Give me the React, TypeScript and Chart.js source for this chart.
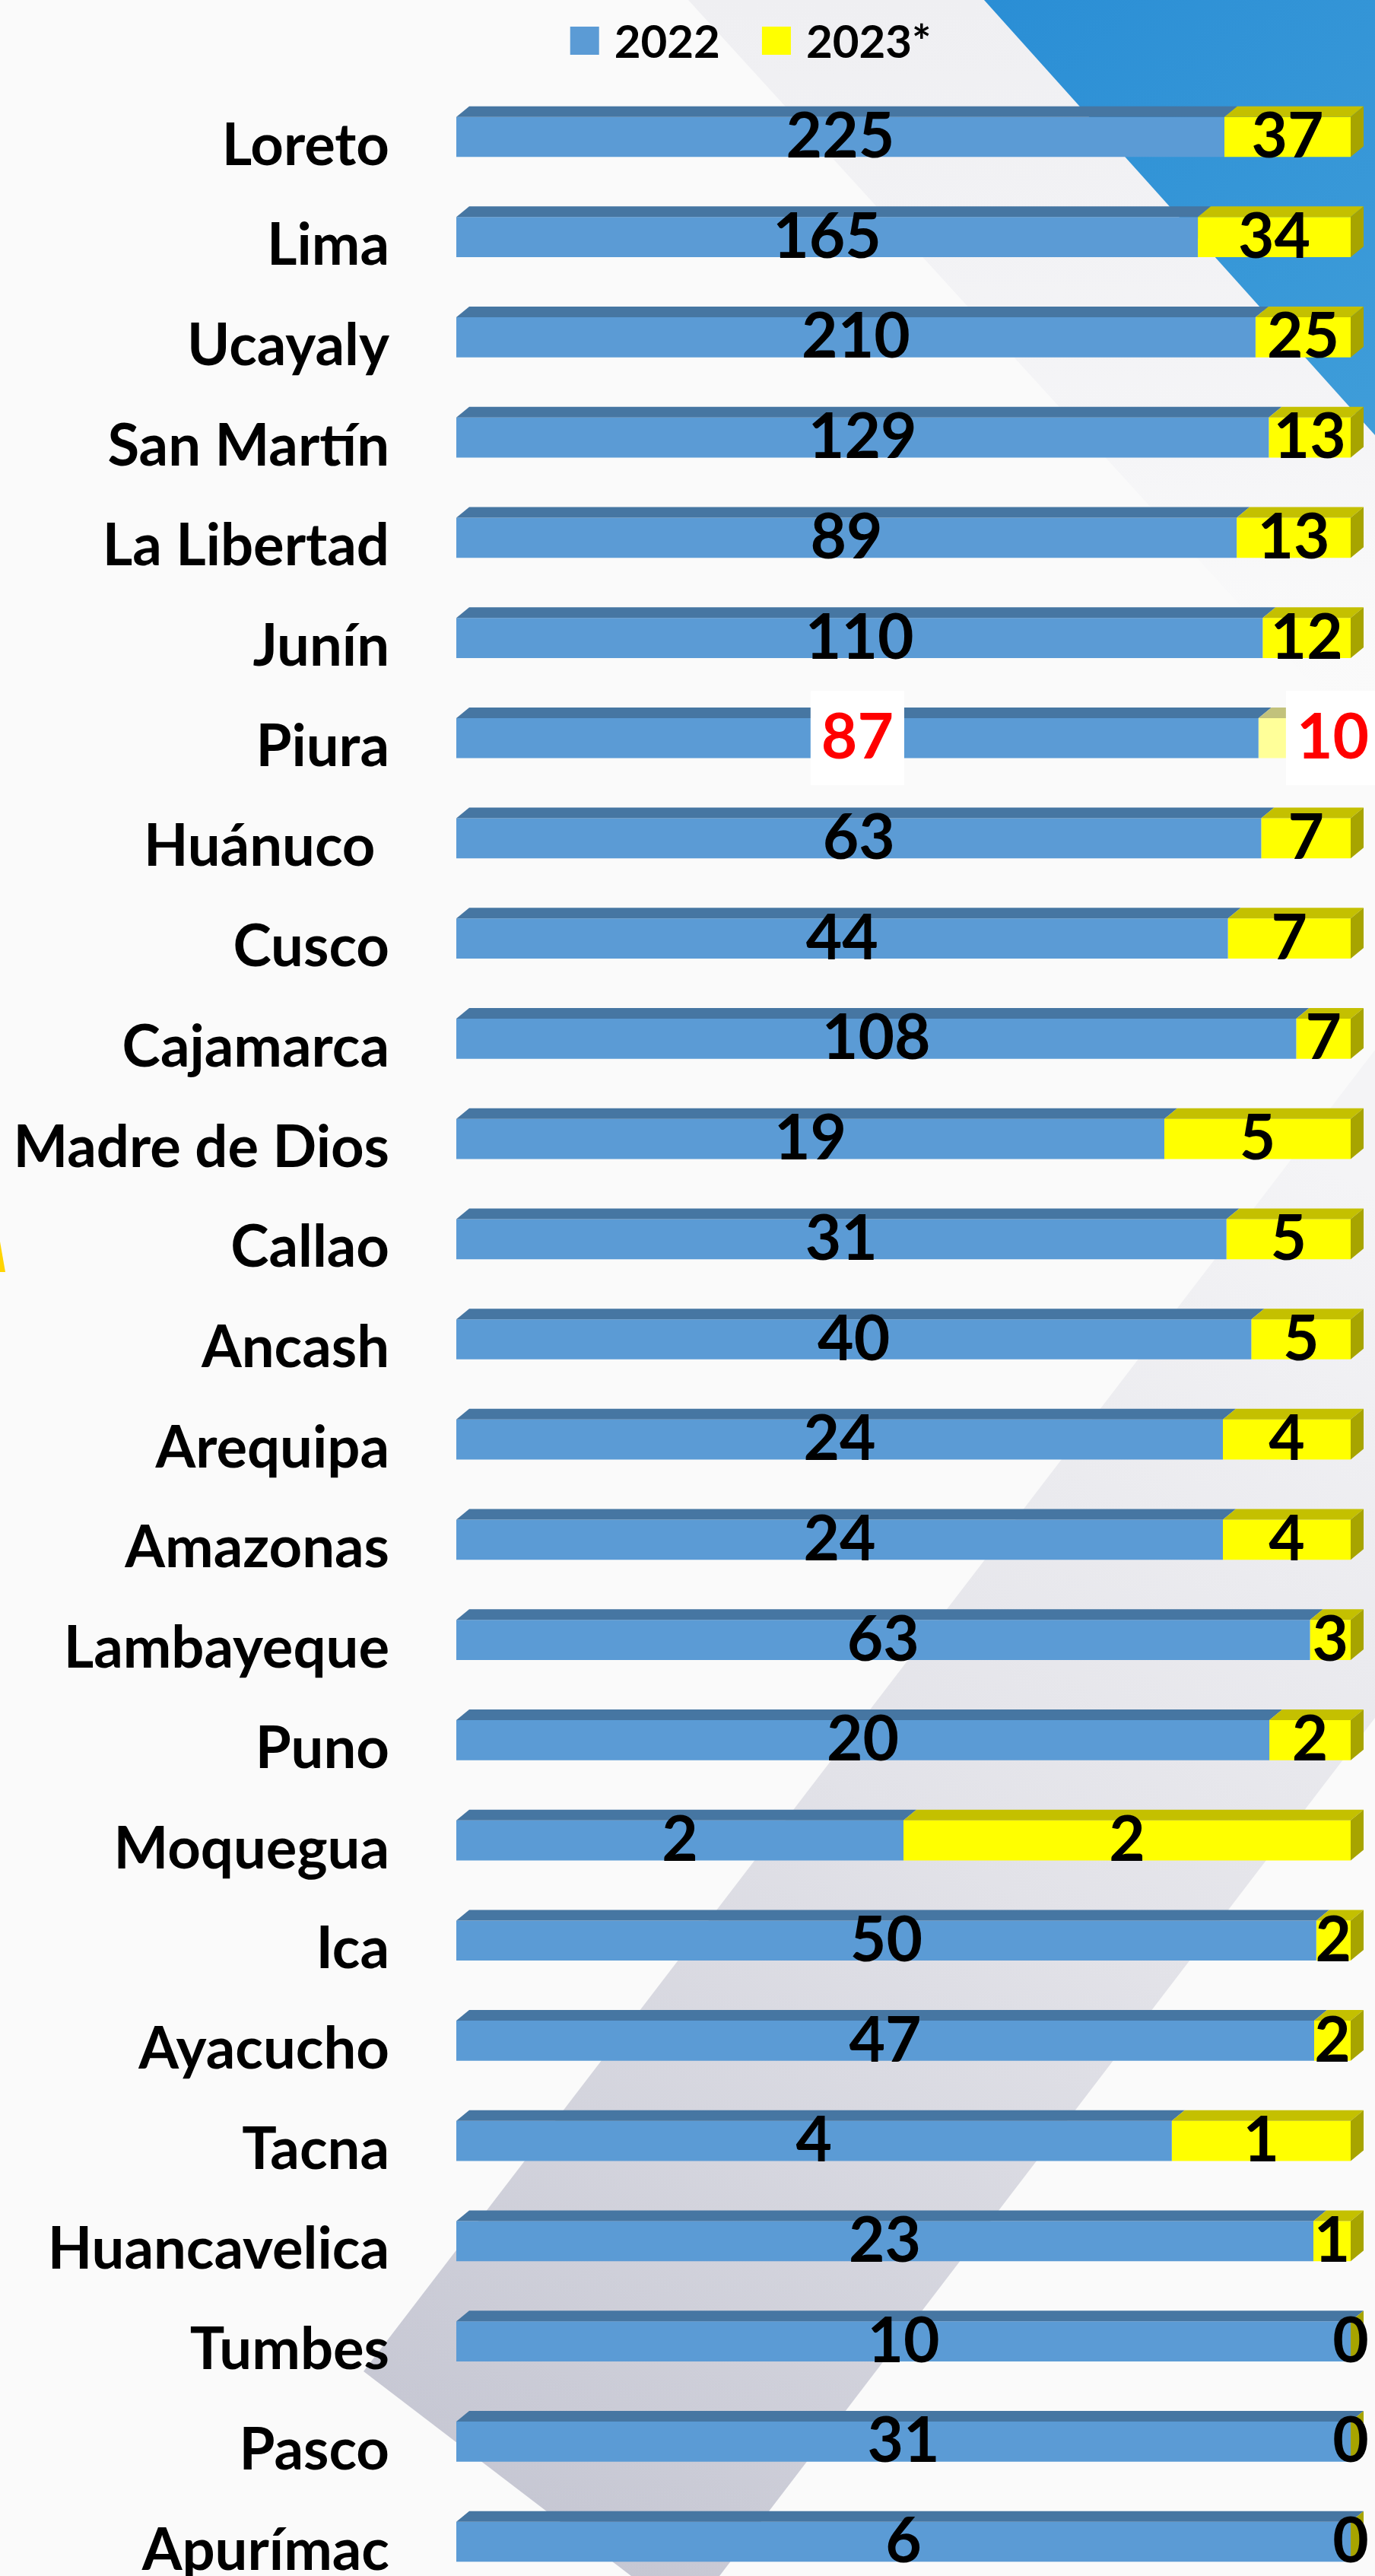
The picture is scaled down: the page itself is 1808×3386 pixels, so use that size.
import React, { useEffect, useRef } from 'react';
import { Chart, registerables } from 'chart.js';

Chart.register(...registerables);

const categories = [
  'Loreto', 'Lima', 'Ucayaly', 'San Martín', 'La Libertad', 'Junín', 'Piura', 'Huánuco ',
  'Cusco', 'Cajamarca', 'Madre de Dios', 'Callao', 'Ancash', 'Arequipa', 'Amazonas',
  'Lambayeque', 'Puno', 'Moquegua', 'Ica', 'Ayacucho', 'Tacna', 'Huancavelica', 'Tumbes',
  'Pasco', 'Apurímac',
];
const values2022 = [225, 165, 210, 129, 89, 110, 87, 63, 44, 108, 19, 31, 40, 24, 24, 63, 20, 2, 50, 47, 4, 23, 10, 31, 6];
const values2023 = [37, 34, 25, 13, 13, 12, 10, 7, 7, 7, 5, 5, 5, 4, 4, 3, 2, 2, 2, 2, 1, 1, 0, 0, 0];
const seriesNames = ['2022', '2023*'];
const highlighted = 'Piura';

const FONT = 'Lato, "Open Sans", sans-serif';
const BLUE = '#5B9BD5';
const BLUE_TOP = '#4676A2';
const YELLOW = '#FFFF00';
const YELLOW_TOP = '#C4C000';
const YELLOW_SIDE = '#A7A400';
const PALE = '#FFFF99';
const PALE_TOP = '#C2C27C';
const PALE_SIDE = '#A8A86C';
const DX = 17;
const DY = 14;

function share(a: number, b: number) {
  const t = a + b;
  return t === 0 ? 0 : (a / t) * 100;
}

const pct2022 = values2022.map((v, i) => share(v, values2023[i]));
const pct2023 = values2023.map((v, i) => share(v, values2022[i]));

function poly(ctx: CanvasRenderingContext2D, pts: number[][], fill: string | CanvasGradient) {
  ctx.beginPath();
  ctx.moveTo(pts[0][0], pts[0][1]);
  for (let i = 1; i < pts.length; i++) ctx.lineTo(pts[i][0], pts[i][1]);
  ctx.closePath();
  ctx.fillStyle = fill;
  ctx.fill();
}

const decoPlugin = {
  id: 'deco',
  beforeDraw(chart: any) {
    const { ctx, width: W, height: H } = chart;
    const sx = W / 1808;
    const sy = H / 3386;
    const P = (x: number, y: number) => [x * sx, y * sy];
    ctx.save();
    ctx.fillStyle = '#FAFAFA';
    ctx.fillRect(0, 0, W, H);

    // light diagonal band at top
    let g = ctx.createLinearGradient(0, 0, 0, 1000 * sy);
    g.addColorStop(0, '#EFEFF2');
    g.addColorStop(0.6, '#F5F5F7');
    g.addColorStop(1, 'rgba(250,250,250,0)');
    poly(ctx, [P(905, 0), P(1808, 0), P(1808, 990)], g);

    // blue corner
    g = ctx.createLinearGradient(1294 * sx, 0, 1808 * sx, 572 * sy);
    g.addColorStop(0, '#2A8ED5');
    g.addColorStop(1, '#3F9DD9');
    poly(ctx, [P(1294, 0), P(1808, 0), P(1808, 572)], g);

    // lower grey band
    g = ctx.createLinearGradient(1700 * sx, 1500 * sy, 600 * sx, 3250 * sy);
    g.addColorStop(0, '#F4F4F6');
    g.addColorStop(0.5, '#E2E2E8');
    g.addColorStop(1, '#C6C7D3');
    poly(ctx, [P(1808, 1380), P(478, 3117), P(830, 3386), P(946, 3386), P(1808, 2258)], g);

    // small yellow tip at left edge
    poly(ctx, [P(0, 1632), P(7, 1672), P(0, 1672)], '#FFD400');
    ctx.restore();
  },
  afterDatasetsDraw(chart: any) {
    const { ctx, width: W } = chart;
    const m0 = chart.getDatasetMeta(0);
    const m1 = chart.getDatasetMeta(1);
    ctx.save();
    const topFace = (a: number, b: number, top: number, c: string) =>
      poly(ctx, [[a, top], [a + DX, top - DY], [b + DX, top - DY], [b, top]], c);

    categories.forEach((cat, i) => {
      const b0 = m0.data[i];
      const b1 = m1.data[i];
      const hl = cat === highlighted;
      const top = b0.y - b0.height / 2;
      const bottom = b0.y + b0.height / 2;
      const x0 = Math.min(b0.base, b0.x), x1 = Math.max(b0.base, b0.x);
      const y0 = Math.min(b1.base, b1.x), y1 = Math.max(b1.base, b1.x);
      topFace(x0, x1, top, BLUE_TOP);
      if (y1 - y0 > 0.5) topFace(y0, y1, top, hl ? PALE_TOP : YELLOW_TOP);
      const R = Math.max(x1, y1);
      poly(ctx, [[R, top], [R + DX, top - DY], [R + DX, bottom - DY], [R, bottom]], hl ? PALE_SIDE : YELLOW_SIDE);
    });

    // data labels
    const size = 82;
    ctx.font = `bold ${size}px ${FONT}`;
    ctx.textBaseline = 'alphabetic';
    const drawLabel = (text: string, cx: number, cy: number, hl: boolean, align: 'center' | 'right') => {
      const base = cy + size * 0.33;
      const w = ctx.measureText(text).width;
      if (hl) {
        const left = align === 'center' ? cx - w / 2 : cx - w;
        ctx.fillStyle = '#FFFFFF';
        ctx.fillRect(left - 14, cy - 62, w + 28, 124);
        ctx.fillStyle = '#FF0000';
      } else {
        ctx.fillStyle = '#000000';
      }
      ctx.textAlign = align;
      ctx.fillText(text, cx, base);
    };
    categories.forEach((cat, i) => {
      const b0 = m0.data[i];
      const b1 = m1.data[i];
      const hl = cat === highlighted;
      drawLabel(String(values2022[i]), (b0.base + b0.x) / 2, b0.y, hl, 'center');
      if (hl) {
        drawLabel(String(values2023[i]), Math.max(b1.x, b1.base) + DX + 7, b1.y, true, 'right');
      } else {
        drawLabel(String(values2023[i]), (b1.base + b1.x) / 2, b1.y, false, 'center');
      }
    });

    // legend
    const lsize = 60;
    ctx.font = `bold ${lsize}px ${FONT}`;
    const sq = 38;
    const gapIn = 20;
    const gapOut = 55;
    const colors = [BLUE, YELLOW];
    const widths = seriesNames.map((n) => ctx.measureText(n).width);
    const total = widths.reduce((s, w) => s + w + sq + gapIn, 0) + gapOut * (seriesNames.length - 1);
    let x = W * 0.546 - total / 2;
    const cy = 54;
    seriesNames.forEach((n, k) => {
      ctx.fillStyle = colors[k];
      ctx.fillRect(x, cy - sq / 2, sq, sq - 1);
      x += sq + gapIn;
      ctx.fillStyle = '#000';
      ctx.textAlign = 'left';
      ctx.fillText(n, x, cy + lsize * 0.36);
      x += widths[k] + gapOut;
    });
    ctx.restore();
  },
};

export default function App() {
  const ref = useRef<HTMLCanvasElement | null>(null);
  useEffect(() => {
    if (!ref.current) return;
    const chart = new Chart(ref.current, {
      type: 'bar',
      data: {
        labels: categories,
        datasets: [
          {
            label: seriesNames[0],
            data: pct2022,
            backgroundColor: BLUE,
            stack: 's',
          },
          {
            label: seriesNames[1],
            data: pct2023,
            backgroundColor: categories.map((c) => (c === highlighted ? PALE : YELLOW)),
            stack: 's',
          },
        ],
      },
      options: {
        indexAxis: 'y',
        animation: false,
        responsive: false,
        maintainAspectRatio: false,
        layout: { padding: { top: 180, bottom: 45, right: 32, left: 0 } },
        datasets: { bar: { barPercentage: 0.4, categoryPercentage: 1, clip: false } },
        scales: {
          x: { stacked: true, min: 0, max: 100, display: false },
          y: {
            stacked: true,
            offset: false,
            grid: { display: false },
            border: { display: false },
            ticks: {
              autoSkip: false,
              color: '#000000',
              padding: 80,
              labelOffset: 12,
              font: { family: FONT, weight: 'bold', size: 76 },
            },
            afterFit: (s: any) => {
              s.width = 600;
              s.paddingTop = 0;
              s.paddingBottom = 0;
            },
          },
        },
        plugins: { legend: { display: false }, tooltip: { enabled: false } },
      },
      plugins: [decoPlugin],
    } as any);
    return () => chart.destroy();
  }, []);
  return (
    <div style={{ position: 'absolute', left: 0, top: 0, width: 1808, height: 3386 }}>
      <canvas ref={ref} width={1808} height={3386} style={{ display: 'block' }} />
    </div>
  );
}
